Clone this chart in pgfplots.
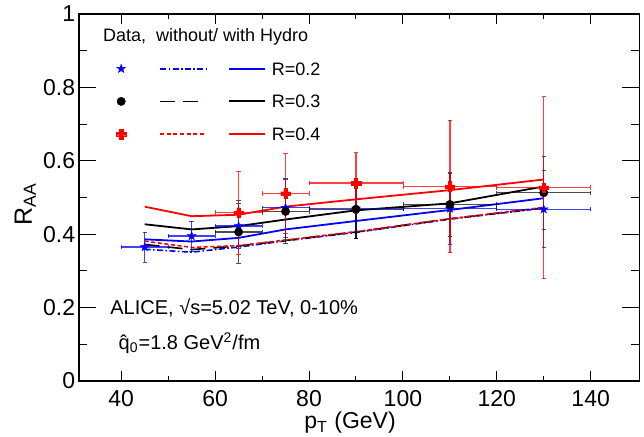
\documentclass[border=0pt]{standalone}
\usepackage{fontspec}
\setmainfont{Liberation Sans}
\usepackage{pgfplots}
\pgfplotsset{compat=1.18}

% filled five-pointed star (ROOT marker 29)
\pgfdeclareplotmark{fstar}{%
  \pgfpathmoveto{\pgfpointpolar{90}{\pgfplotmarksize}}%
  \pgfpathlineto{\pgfpointpolar{126}{0.40\pgfplotmarksize}}%
  \pgfpathlineto{\pgfpointpolar{162}{\pgfplotmarksize}}%
  \pgfpathlineto{\pgfpointpolar{198}{0.40\pgfplotmarksize}}%
  \pgfpathlineto{\pgfpointpolar{234}{\pgfplotmarksize}}%
  \pgfpathlineto{\pgfpointpolar{270}{0.40\pgfplotmarksize}}%
  \pgfpathlineto{\pgfpointpolar{306}{\pgfplotmarksize}}%
  \pgfpathlineto{\pgfpointpolar{342}{0.40\pgfplotmarksize}}%
  \pgfpathlineto{\pgfpointpolar{18}{\pgfplotmarksize}}%
  \pgfpathlineto{\pgfpointpolar{54}{0.40\pgfplotmarksize}}%
  \pgfpathclose
  \pgfusepathqfillstroke}
% filled thick cross (ROOT marker 34)
\pgfdeclareplotmark{fcross}{%
  \pgfpathmoveto{\pgfpoint{0.36\pgfplotmarksize}{\pgfplotmarksize}}%
  \pgfpathlineto{\pgfpoint{-0.36\pgfplotmarksize}{\pgfplotmarksize}}%
  \pgfpathlineto{\pgfpoint{-0.36\pgfplotmarksize}{0.36\pgfplotmarksize}}%
  \pgfpathlineto{\pgfpoint{-\pgfplotmarksize}{0.36\pgfplotmarksize}}%
  \pgfpathlineto{\pgfpoint{-\pgfplotmarksize}{-0.36\pgfplotmarksize}}%
  \pgfpathlineto{\pgfpoint{-0.36\pgfplotmarksize}{-0.36\pgfplotmarksize}}%
  \pgfpathlineto{\pgfpoint{-0.36\pgfplotmarksize}{-\pgfplotmarksize}}%
  \pgfpathlineto{\pgfpoint{0.36\pgfplotmarksize}{-\pgfplotmarksize}}%
  \pgfpathlineto{\pgfpoint{0.36\pgfplotmarksize}{-0.36\pgfplotmarksize}}%
  \pgfpathlineto{\pgfpoint{\pgfplotmarksize}{-0.36\pgfplotmarksize}}%
  \pgfpathlineto{\pgfpoint{\pgfplotmarksize}{0.36\pgfplotmarksize}}%
  \pgfpathlineto{\pgfpoint{0.36\pgfplotmarksize}{0.36\pgfplotmarksize}}%
  \pgfpathclose
  \pgfusepathqfillstroke}

\tikzset{
  dashdotroot/.style={dash pattern=on 3pt off 1.2pt on 0.8pt off 1.2pt},
  longdashroot/.style={dash pattern=on 7.5pt off 4pt},
  dotroot/.style={dash pattern=on 2pt off 1.3pt},
}

\begin{document}
\begin{tikzpicture}
\path[use as bounding box] (-39.5pt,-28pt) rectangle (282.5pt,190.5pt);
\begin{axis}[
    at={(0pt,0pt)}, anchor=south west,
    scale only axis,
    width=280.25pt, height=183.5pt,
    xmin=31, xmax=150.4,
    ymin=0, ymax=1,
    xtick={40,60,80,100,120,140},
    ytick={0,0.2,0.4,0.6,0.8,1},
    minor x tick num=1,
    minor y tick num=1,
    tick align=inside,
    axis line style={line width=0.6pt},
    tick style={black, line width=0.5pt},
    xtick style={/pgfplots/major tick length=5pt, /pgfplots/minor tick length=2.5pt},
    ytick style={/pgfplots/major tick length=8.5pt, /pgfplots/minor tick length=4pt},
    /pgf/number format/assume math mode=true,
    ticklabel style={font=\fontsize{11.5}{13}\selectfont},
    xticklabel style={inner sep=0pt, anchor=north, yshift=-4.6pt},
    yticklabel style={inner sep=0pt, anchor=east, xshift=-1.75pt},
    xlabel={p\textsubscript{T} (GeV)},
    ylabel={R\textsubscript{AA}},
    xlabel style={font=\fontsize{11.5}{13}\selectfont, inner sep=0pt, anchor=base, at={(axis description cs:0.4835,-0.130)}},
    ylabel style={font=\fontsize{12.5}{14}\selectfont, inner sep=0pt, anchor=base, at={(axis description cs:-0.0839,0.482)}},
    legend cell align=left,
    legend style={
        at={(axis description cs:0.0667,0.8684)}, anchor=north west,
        draw=none, fill=none, inner sep=0pt, outer sep=0pt,
        font=\fontsize{9}{10}\selectfont,
        row sep=9.8pt,
        nodes={inner xsep=2.9pt, inner ysep=0pt, text height=6.5pt, text depth=0pt},
    },
    clip=false,
]

% without hydro
\addplot[blue, line width=0.8pt, dashdotroot, forget plot] coordinates {
    (45,0.359) (55,0.351) (65,0.365) (75,0.382) (90,0.405) (110,0.441) (130,0.471)
};
\addplot[black, line width=0.8pt, longdashroot, forget plot] coordinates {
    (45,0.372) (55,0.358) (65,0.368) (75,0.383) (90,0.406) (110,0.442) (130,0.472)
};
\addplot[red, line width=0.8pt, dotroot, forget plot] coordinates {
    (45,0.381) (55,0.364) (65,0.369) (75,0.384) (90,0.407) (110,0.442) (130,0.473)
};

% with hydro
\addplot[blue, line width=0.9pt, forget plot] coordinates {
    (45,0.386) (55,0.380) (65,0.390) (75,0.413) (90,0.436) (110,0.466) (130,0.498)
};
\addplot[black, line width=0.9pt, forget plot] coordinates {
    (45,0.427) (55,0.413) (65,0.422) (75,0.440) (90,0.465) (110,0.484) (130,0.530)
};
\addplot[red, line width=0.9pt, forget plot] coordinates {
    (45,0.475) (55,0.449) (65,0.453) (75,0.475) (90,0.495) (110,0.520) (130,0.549)
};

% ALICE data
\addplot[blue, only marks, mark=fstar, mark size=2.3pt, mark options={fill=blue, line width=0.2pt}, forget plot,
    error bars/.cd, x dir=both, x explicit, y dir=both, y explicit,
    error bar style={blue, line width=0.7pt, opacity=0.75},
    error mark options={rotate=90, blue, mark size=1.1pt, opacity=0.75}]
coordinates {
    (45,0.365) +- (5,0.041)
    (55,0.395) +- (5,0.041)
    (65,0.422) +- (5,0.062)
    (75,0.472) +- (5,0.080)
    (90,0.470) +- (10,0.082)
    (110,0.470) +- (10,0.097)
    (130,0.468) +- (10,0.105)
};
\addplot[black, only marks, mark=*, mark size=2.1pt, mark options={fill=black, line width=0.2pt}, forget plot,
    error bars/.cd, x dir=both, x explicit, y dir=both, y explicit,
    error bar style={black, line width=0.7pt, opacity=0.7},
    error mark options={rotate=90, black, mark size=1.1pt, opacity=0.7}]
coordinates {
    (65,0.406) +- (5,0.085)
    (75,0.462) +- (5,0.086)
    (90,0.468) +- (10,0.080)
    (110,0.481) +- (10,0.088)
    (130,0.513) +- (10,0.100)
};
\addplot[red, only marks, mark=fcross, mark size=2.4pt, mark options={fill=red, line width=0.2pt}, forget plot,
    error bars/.cd, x dir=both, x explicit, y dir=both, y explicit,
    error bar style={red, line width=0.7pt, opacity=0.75},
    error mark options={rotate=90, red, mark size=1.1pt, opacity=0.75}]
coordinates {
    (65,0.459) +- (5,0.113)
    (75,0.511) +- (5,0.109)
    (90,0.539) +- (10,0.083)
    (110,0.530) +- (10,0.180)
    (130,0.527) +- (10,0.248)
};

% legend: data marker, without hydro, with hydro
\addlegendimage{legend image code/.code={
    \draw[blue, line width=0.8pt, dashdotroot] (19.5pt,0pt) -- (42.5pt,0pt);
    \draw[blue, line width=0.9pt] (54pt,0pt) -- (72pt,0pt);
    \path[draw=blue, fill=blue, line width=0.2pt] plot[mark=fstar, mark size=2.3pt, only marks] coordinates {(0pt,0pt)};
}}
\addlegendentry{R=0.2}
\addlegendimage{legend image code/.code={
    \draw[black, line width=0.8pt, longdashroot] (19.5pt,0pt) -- (42.5pt,0pt);
    \draw[black, line width=0.9pt] (54pt,0pt) -- (72pt,0pt);
    \path[draw=black, fill=black, line width=0.2pt] plot[mark=*, mark size=2.1pt, only marks] coordinates {(0pt,0pt)};
}}
\addlegendentry{R=0.3}
\addlegendimage{legend image code/.code={
    \draw[red, line width=0.8pt, dotroot] (19.5pt,0pt) -- (42.5pt,0pt);
    \draw[red, line width=0.9pt] (54pt,0pt) -- (72pt,0pt);
    \path[draw=red, fill=red, line width=0.2pt] plot[mark=fcross, mark size=2.4pt, only marks] coordinates {(0pt,0pt)};
}}
\addlegendentry{R=0.4}

\node[anchor=base west, inner sep=0pt, font=\fontsize{9}{10}\selectfont]
    at (axis description cs:0.0423,0.926) {Data,\ \ without/ with Hydro};
\node[anchor=base west, inner sep=0pt, font=\fontsize{10}{12}\selectfont]
    at (axis description cs:0.0553,0.1812) {ALICE, √s=5.02 TeV, 0-10\%};
\node[anchor=base west, inner sep=0pt, font=\fontsize{10}{12}\selectfont]
    at (axis description cs:0.0701,0.0858) {\^{q}\textsubscript{0}=1.8 GeV\textsuperscript{2}/fm};

\end{axis}
\end{tikzpicture}
\end{document}
